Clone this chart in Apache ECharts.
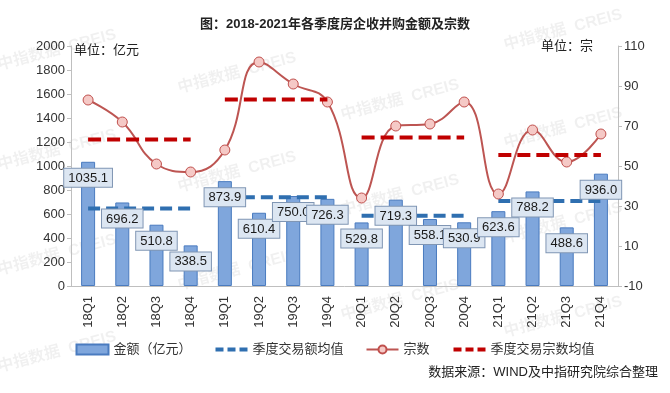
<!DOCTYPE html>
<html>
<head>
<meta charset="utf-8">
<script src="https://cdn.jsdelivr.net/npm/echarts@6/dist/echarts.min.js"></script>
<style>
html,body{margin:0;padding:0;background:#fff;}
#chart{width:670px;height:393px;}
</style>
</head>
<body>
<div id="chart"></div>
<script>
// ---- data ----
var categories = ['18Q1','18Q2','18Q3','18Q4','19Q1','19Q2','19Q3','19Q4','20Q1','20Q2','20Q3','20Q4','21Q1','21Q2','21Q3','21Q4'];
var amounts = [1035.1, 696.2, 510.8, 338.5, 873.9, 610.4, 750.0, 726.3, 529.8, 719.3, 558.1, 530.9, 623.6, 788.2, 488.6, 936.0];
var counts = [83, 72, 51, 47, 58, 102, 91, 82, 34, 70, 71, 82, 36, 68, 52, 66];
var amountAvgByYear = [645.2, 740.2, 584.5, 709.1];
var countAvgByYear = [63.3, 83.3, 64.3, 55.5];
var leftTicks = [0, 2000, 200];
var rightTickLabels = [-10, 10, 30, 50, 70, 90, 110];

var FONT = "'Liberation Sans', 'Noto Sans CJK SC', sans-serif";

function yearSegment(avgArr, yearIdx) {
  var out = [];
  for (var i = 0; i < categories.length; i++) {
    out.push(Math.floor(i / 4) === yearIdx ? avgArr[yearIdx] : null);
  }
  return out;
}

var series = [{
  name: '金额（亿元）',
  type: 'bar',
  yAxisIndex: 0,
  barWidth: 14,
  barGap: '-100%',
  data: amounts,
  itemStyle: { color: '#7fa6dc', borderColor: '#4a7bbf', borderWidth: 1 },
  z: 2
}, {
  name: '金额标签',
  type: 'bar',
  yAxisIndex: 0,
  barWidth: 14,
  barGap: '-100%',
  data: amounts,
  silent: true,
  itemStyle: { color: 'rgba(0,0,0,0)' },
  label: {
    show: true,
    position: 'insideTop',
    distance: 7,
    formatter: function (p) { return Number(p.value).toFixed(1); },
    fontSize: 13,
    fontFamily: FONT,
    color: '#1a1a1a',
    backgroundColor: '#dce6f2',
    borderColor: '#8096b4',
    borderWidth: 1,
    padding: [3, 4, 2, 4]
  },
  z: 20
}];

for (var y = 0; y < 4; y++) {
  series.push({
    name: '季度交易额均值',
    type: 'line',
    yAxisIndex: 0,
    data: yearSegment(amountAvgByYear, y),
    symbol: 'none',
    lineStyle: { color: '#2f6fb0', width: 4, type: [12, 6] },
    itemStyle: { color: '#2f6fb0' },
    z: 3
  });
}

series.push({
  name: '宗数',
  type: 'line',
  yAxisIndex: 1,
  data: counts,
  smooth: 0.45,
  symbol: 'circle',
  symbolSize: 10,
  lineStyle: { color: '#bd5552', width: 2 },
  itemStyle: { color: '#f5c9c6', borderColor: '#c0504d', borderWidth: 1 },
  z: 4
});

for (var y2 = 0; y2 < 4; y2++) {
  series.push({
    name: '季度交易宗数均值',
    type: 'line',
    yAxisIndex: 1,
    data: yearSegment(countAvgByYear, y2),
    symbol: 'none',
    lineStyle: { color: '#c00000', width: 4, type: [13, 6] },
    itemStyle: { color: '#c00000' },
    z: 5
  });
}

// watermarks
var wmPos = [[57,50],[237,73],[400,100],[563,30],[563,128],[57,150],[237,172],[400,195],[563,223],[57,255],[237,270],[400,300],[563,317],[57,352]];
var graphics = wmPos.map(function (p) {
  return {
    type: 'text', x: p[0], y: p[1], rotation: 0.26, z: -10, silent: true,
    style: { text: '中指数据  CREIS', fill: 'rgba(0,0,0,0.06)', font: 'bold 16px ' + FONT, textAlign: 'center', textVerticalAlign: 'middle' }
  };
});
graphics.push({ type: 'text', left: 74, top: 44, z: 10, style: { text: '单位：亿元', fill: '#222', font: '13px ' + FONT } });
graphics.push({ type: 'text', right: 77, top: 40, z: 10, style: { text: '单位：宗', fill: '#222', font: '13px ' + FONT } });
graphics.push({ type: 'text', right: 12, top: 366, z: 10, style: { text: '数据来源：WIND及中指研究院综合整理', fill: '#222', font: '13px ' + FONT } });

var chart = echarts.init(document.getElementById('chart'), null, { renderer: 'canvas' });
chart.setOption({
  backgroundColor: '#fff',
  animation: false,
  textStyle: { fontFamily: FONT },
  title: {
    text: '图：2018-2021年各季度房企收并购金额及宗数',
    left: 'center', top: 13,
    textStyle: { fontSize: 13, fontWeight: 'bold', color: '#222', fontFamily: FONT }
  },
  legend: {
    top: 338, left: 'center',
    itemGap: 22, itemWidth: 32, itemHeight: 10,
    data: [
      { name: '金额（亿元）', icon: 'rect' },
      { name: '季度交易额均值', itemStyle: { opacity: 0 }, lineStyle: { width: 4, type: [8, 4] } },
      { name: '宗数' },
      { name: '季度交易宗数均值', itemStyle: { opacity: 0 }, lineStyle: { width: 4, type: [8, 4] } }
    ],
    textStyle: { fontSize: 13, color: '#333', fontFamily: FONT }
  },
  grid: { left: 71, right: 52, top: 46, bottom: 107 },
  xAxis: {
    type: 'category',
    data: categories,
    axisLine: { lineStyle: { color: '#bfbfbf' } },
    axisTick: { show: false },
    axisLabel: { rotate: 90, fontSize: 13, color: '#333', margin: 10, fontFamily: FONT }
  },
  yAxis: [{
    type: 'value',
    min: leftTicks[0], max: leftTicks[1], interval: leftTicks[2],
    axisLine: { show: true, lineStyle: { color: '#bfbfbf' } },
    axisTick: { show: true, length: 4, lineStyle: { color: '#bfbfbf' } },
    axisLabel: { fontSize: 13, color: '#333', margin: 6, fontFamily: FONT, formatter: function (v) { return String(v); } },
    splitLine: { show: false }
  }, {
    type: 'value',
    position: 'right',
    min: -10, max: 110,
    axisLine: { show: true, lineStyle: { color: '#bfbfbf' } },
    axisTick: { show: true, length: 4, lineStyle: { color: '#bfbfbf' }, customValues: rightTickLabels },
    axisLabel: { fontSize: 13, color: '#333', margin: 6, fontFamily: FONT, customValues: rightTickLabels },
    splitLine: { show: false }
  }],
  graphic: graphics,
  series: series
});
</script>
</body>
</html>
